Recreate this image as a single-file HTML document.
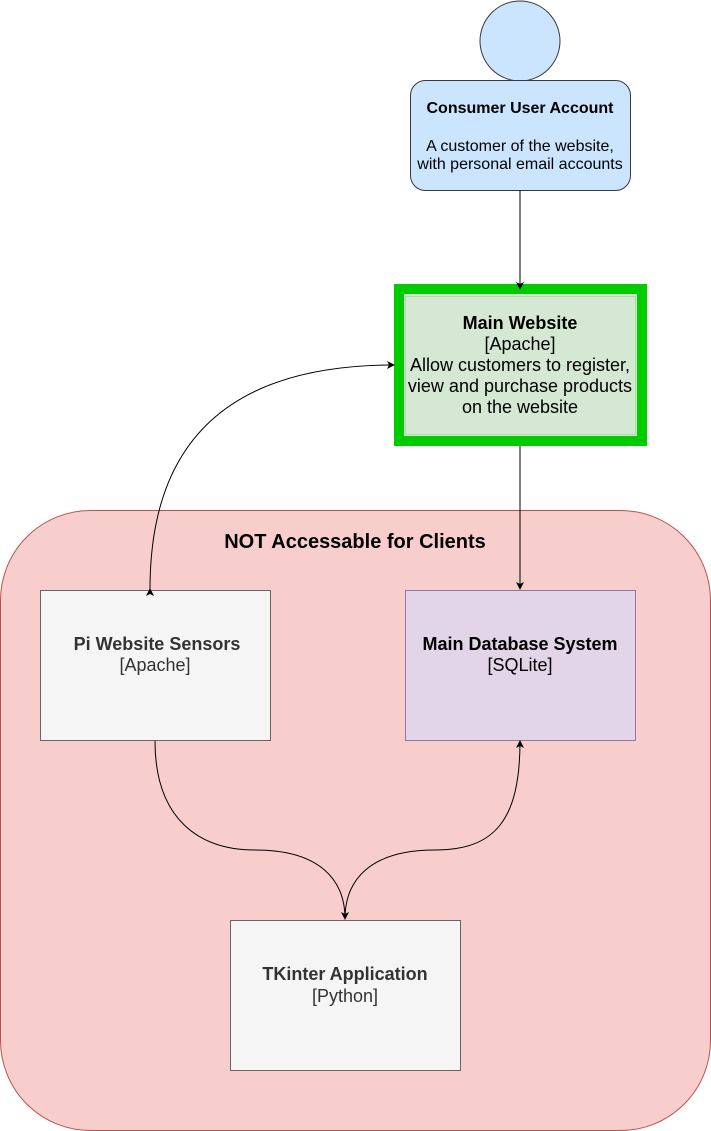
<!DOCTYPE html>
<html><head><meta charset="utf-8"><style>
html,body{margin:0;padding:0;background:#fff;}
svg{display:block;}
text{font-family:"Liberation Sans",Arial,sans-serif;}
</style></head><body>
<svg width="711" height="1131" viewBox="0 0 711 1131" xmlns="http://www.w3.org/2000/svg">
<defs>
<marker id="a" markerWidth="10" markerHeight="10" refX="7" refY="4" orient="auto" markerUnits="userSpaceOnUse">
<path d="M0,0 L8,4 L0,8 L2,4 Z" fill="#000"/>
</marker>
</defs>
<rect x="0.5" y="510.5" width="710" height="620" rx="90" ry="90" fill="#f8cecc" stroke="#b85450"/>
<text x="355" y="548" font-size="20" font-weight="bold" text-anchor="middle" fill="#000">NOT Accessable for Clients</text>

<circle cx="520" cy="41" r="40" fill="#cce5ff" stroke="#36393d"/>
<rect x="410.5" y="80.5" width="220" height="110" rx="15" ry="15" fill="#cce5ff" stroke="#36393d"/>
<text x="520" y="113" font-size="16" font-weight="bold" text-anchor="middle" fill="#000">Consumer User Account</text>
<text x="520" y="151" font-size="16" text-anchor="middle" fill="#000">A customer of the website,</text>
<text x="520" y="169" font-size="16" text-anchor="middle" fill="#000">with personal email accounts</text>

<rect x="399" y="289" width="243" height="152" fill="#d5e8d4" stroke="#00cc00" stroke-width="10"/>
<rect x="405.5" y="296.5" width="230" height="138" fill="none" stroke="#a9e0a0" stroke-width="1"/>
<text x="520" y="329" font-size="18" font-weight="bold" text-anchor="middle" fill="#000">Main Website</text>
<text x="520" y="350" font-size="18" text-anchor="middle" fill="#000">[Apache]</text>
<text x="520" y="371" font-size="18" text-anchor="middle" fill="#000">Allow customers to register,</text>
<text x="520" y="392" font-size="18" text-anchor="middle" fill="#000">view and purchase products</text>
<text x="520" y="413" font-size="18" text-anchor="middle" fill="#000">on the website</text>

<rect x="40.5" y="590.5" width="230" height="150" fill="#f5f5f5" stroke="#666666"/>
<text x="157" y="650" font-size="18" font-weight="bold" text-anchor="middle" fill="#333">Pi Website Sensors</text>
<text x="155" y="671" font-size="18" text-anchor="middle" fill="#333">[Apache]</text>

<rect x="405.5" y="590.5" width="230" height="150" fill="#e1d5e7" stroke="#9673a6"/>
<text x="520" y="650" font-size="18" font-weight="bold" text-anchor="middle" fill="#000">Main Database System</text>
<text x="520" y="671" font-size="18" text-anchor="middle" fill="#000">[SQLite]</text>

<rect x="230.5" y="920.5" width="230" height="150" fill="#f5f5f5" stroke="#666666"/>
<text x="345" y="980" font-size="18" font-weight="bold" text-anchor="middle" fill="#333">TKinter Application</text>
<text x="345" y="1002" font-size="18" text-anchor="middle" fill="#333">[Python]</text>

<g fill="none" stroke="#000" stroke-width="1">
<line x1="520" y1="190" x2="520" y2="289" marker-end="url(#a)"/>
<line x1="520" y1="446" x2="520" y2="589" marker-end="url(#a)"/>
<path d="M150,589 C150,440 230,365 394,365" marker-start="url(#a)" marker-end="url(#a)"/>
<path d="M155,741 C155,820 200,850 255,850 C320,850 345,880 345,919" marker-end="url(#a)"/>
<path d="M345,919 C345,880 370,850 435,850 C495,850 520,820 520,741" marker-end="url(#a)"/>
</g>
</svg>
</body></html>
